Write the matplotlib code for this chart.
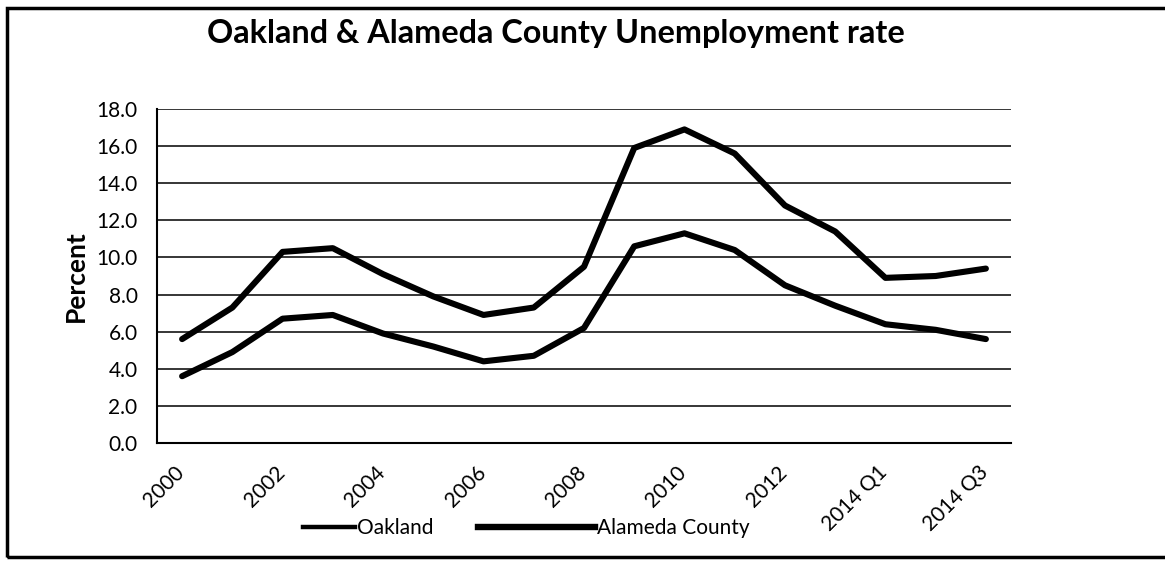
import matplotlib

matplotlib.use("Agg")
import matplotlib.pyplot as plt
import matplotlib.transforms as mtransforms
from matplotlib.lines import Line2D
from matplotlib.patches import Rectangle

# ---- Data ------------------------------------------------------------------
periods = ["2000", "2001", "2002", "2003", "2004", "2005", "2006", "2007",
           "2008", "2009", "2010", "2011", "2012", "2013",
           "2014 Q1", "2014 Q2", "2014 Q3"]
oakland = [5.6, 7.3, 10.3, 10.5, 9.1, 7.9, 6.9, 7.3,
           9.5, 15.9, 16.9, 15.6, 12.8, 11.4, 8.9, 9.0, 9.4]
alameda = [3.6, 4.9, 6.7, 6.9, 5.9, 5.2, 4.4, 4.7,
           6.2, 10.6, 11.3, 10.4, 8.5, 7.4, 6.4, 6.1, 5.6]
yticks = [0, 2, 4, 6, 8, 10, 12, 14, 16, 18]

FONT = ["Lato", "DejaVu Sans"]
plt.rcParams["font.family"] = FONT

fig = plt.figure(figsize=(11.65, 5.62), dpi=100)
ax = fig.add_axes([157 / 1165, 1 - 443 / 562, (1011 - 157) / 1165, (443 - 109) / 562])

x = list(range(len(periods)))
ax.plot(x, oakland, color="black", lw=4.4, solid_capstyle="round",
        solid_joinstyle="round", label="Oakland")
ax.plot(x, alameda, color="black", lw=4.4, solid_capstyle="round",
        solid_joinstyle="round", label="Alameda County")

ax.set_xlim(-0.5, len(periods) - 0.5)
ax.set_ylim(0, 18)
ax.set_yticks(yticks)
ax.set_yticklabels([f"{v:.1f}" for v in yticks], fontsize=15)
ax.yaxis.grid(True, color="black", lw=1.1)
ax.xaxis.grid(False)
ax.set_axisbelow(True)

shown = list(range(0, len(periods), 2))
ax.set_xticks(shown)
ax.set_xticklabels([periods[i] for i in shown], rotation=45, ha="right",
                   rotation_mode="anchor", fontsize=15)
ax.tick_params(axis="y", length=0, pad=14)
ax.tick_params(axis="x", length=0, pad=14)
shift = mtransforms.ScaledTranslation(-8 / 100, 0, fig.dpi_scale_trans)
for lab in ax.get_xticklabels():
    lab.set_transform(lab.get_transform() + shift)

for s in ["top", "right"]:
    ax.spines[s].set_visible(False)
for s in ["left", "bottom"]:
    ax.spines[s].set_color("black")
    ax.spines[s].set_linewidth(1.5)

ax.set_ylabel("Percent", fontsize=19, fontweight="bold")
ax.yaxis.set_label_coords(-69 / 854, 0.5)

fig.text(556 / 1165, 1 - 34 / 562, "Oakland & Alameda County Unemployment rate",
         ha="center", va="center", fontsize=23.3, fontweight="bold")

# legend: two entries with different handle lengths, as in the source
h_oak = Line2D([], [], color="black", lw=3.2)
h_ala = Line2D([], [], color="black", lw=4.6)
fig.legend([h_oak], ["Oakland"], loc="center left",
           bbox_to_anchor=(295 / 1165, 1 - 528 / 562), frameon=False,
           fontsize=15, handlelength=2.5, handletextpad=0.1, borderaxespad=0)
fig.legend([h_ala], ["Alameda County"], loc="center left",
           bbox_to_anchor=(470 / 1165, 1 - 528 / 562), frameon=False,
           fontsize=15, handlelength=5.6, handletextpad=0.1, borderaxespad=0)

# outer chart border
fig.patches.append(Rectangle((7 / 1165, 5 / 562), 1.2, 1 - 13 / 562,
                             transform=fig.transFigure, fill=False,
                             edgecolor="black", lw=2.5))

fig.savefig("out.png", dpi=100, facecolor="white")
